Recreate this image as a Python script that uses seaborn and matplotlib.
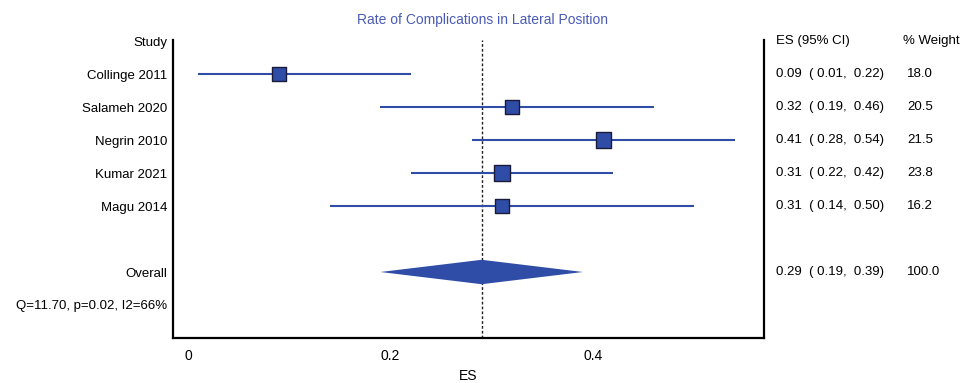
import matplotlib.pyplot as plt
import matplotlib.transforms as mtransforms
import seaborn as sns
import pandas as pd

# dados do forest plot
estudos = ["Collinge 2011", "Salameh 2020", "Negrin 2010", "Kumar 2021", "Magu 2014"]
es = [0.09, 0.32, 0.41, 0.31, 0.31]
ic_inf = [0.01, 0.19, 0.28, 0.22, 0.14]
ic_sup = [0.22, 0.46, 0.54, 0.42, 0.50]
pesos = [18.0, 20.5, 21.5, 23.8, 16.2]
es_geral = 0.29
ic_geral = (0.19, 0.39)
peso_geral = 100.0
heterogeneidade = "Q=11.70, p=0.02, I2=66%"
titulo = "Rate of Complications in Lateral Position"
xticks = [0, 0.2, 0.4]

sns.set_theme(style="white")
plt.rcParams['font.family'] = ['Liberation Sans Narrow', 'Liberation Sans', 'DejaVu Sans']
plt.rcParams['text.color'] = 'black'
plt.rcParams['xtick.color'] = 'black'
plt.rcParams['ytick.color'] = 'black'
plt.rcParams['axes.labelcolor'] = 'black'

azul = '#2f4ca6'
fs = 9.5

fig = plt.figure(figsize=(9.61, 3.83), dpi=100)
ax = fig.add_axes([0.180, 0.1175, 0.615, 0.778])

linhas = list(range(1, len(estudos) + 1))
df = pd.DataFrame({"es": es, "linha": linhas, "peso": pesos})

ax.hlines(linhas, ic_inf, ic_sup, color=azul, lw=1.5, zorder=2)
sns.scatterplot(data=df, x="es", y="linha", size="peso", sizes=(90, 130),
                size_norm=(16, 24), marker='s', color=azul, edgecolor='#1a1a3a',
                linewidth=1.0, legend=False, ax=ax, zorder=3)

# diamante do efeito geral
y_geral = 7
meia_altura = 0.37
ax.fill([ic_geral[0], es_geral, ic_geral[1], es_geral],
        [y_geral, y_geral - meia_altura, y_geral, y_geral + meia_altura],
        color=azul, lw=0, zorder=2)

ax.axvline(es_geral, color='#222222', lw=1.0, ls=(0, (2, 1.5)), zorder=1)

ax.set_xlim(-0.015, 0.569)
ax.set_ylim(9, -0.03)
ax.set_xticks(xticks)
ax.set_xticklabels(["0", "0.2", "0.4"], fontsize=fs + 0.5)
ax.tick_params(axis='x', length=4, width=0.8, color='#999999', pad=4)

rotulos = ["Study"] + estudos + ["", "Overall", heterogeneidade]
ax.set_yticks(range(len(rotulos)))
ax.set_yticklabels(rotulos, fontsize=fs)
ax.tick_params(axis='y', length=0, pad=4)

ax.set_xlabel("ES", fontsize=fs + 0.5, labelpad=4)
ax.set_ylabel("")

for lado in ['left', 'bottom', 'right']:
    ax.spines[lado].set_color('black')
    ax.spines[lado].set_linewidth(1.6)
ax.spines['top'].set_visible(False)

# colunas à direita
trans = mtransforms.blended_transform_factory(fig.transFigure, ax.transData)
x_es = 776 / 961
x_peso = 903 / 961
ax.text(x_es, 0, "ES (95% CI)", transform=trans, fontsize=fs, va='center', ha='left')
ax.text(x_peso, 0, "% Weight", transform=trans, fontsize=fs, va='center', ha='left')
for y, e, a, b, p in zip(linhas, es, ic_inf, ic_sup, pesos):
    ax.text(x_es, y, f"{e:.2f}  ( {a:.2f},  {b:.2f})", transform=trans,
            fontsize=fs, va='center', ha='left')
    ax.text(x_peso + 4 / 961, y, f"{p:.1f}", transform=trans, fontsize=fs,
            va='center', ha='left')
ax.text(x_es, y_geral, f"{es_geral:.2f}  ( {ic_geral[0]:.2f},  {ic_geral[1]:.2f})",
        transform=trans, fontsize=fs, va='center', ha='left')
ax.text(x_peso + 4 / 961, y_geral, f"{peso_geral:.1f}", transform=trans,
        fontsize=fs, va='center', ha='left')

fig.text(483 / 961, 1 - 20 / 383, titulo, color='#4a5bb5', fontsize=10,
         ha='center', va='center')

fig.savefig("out.png", dpi=100)
